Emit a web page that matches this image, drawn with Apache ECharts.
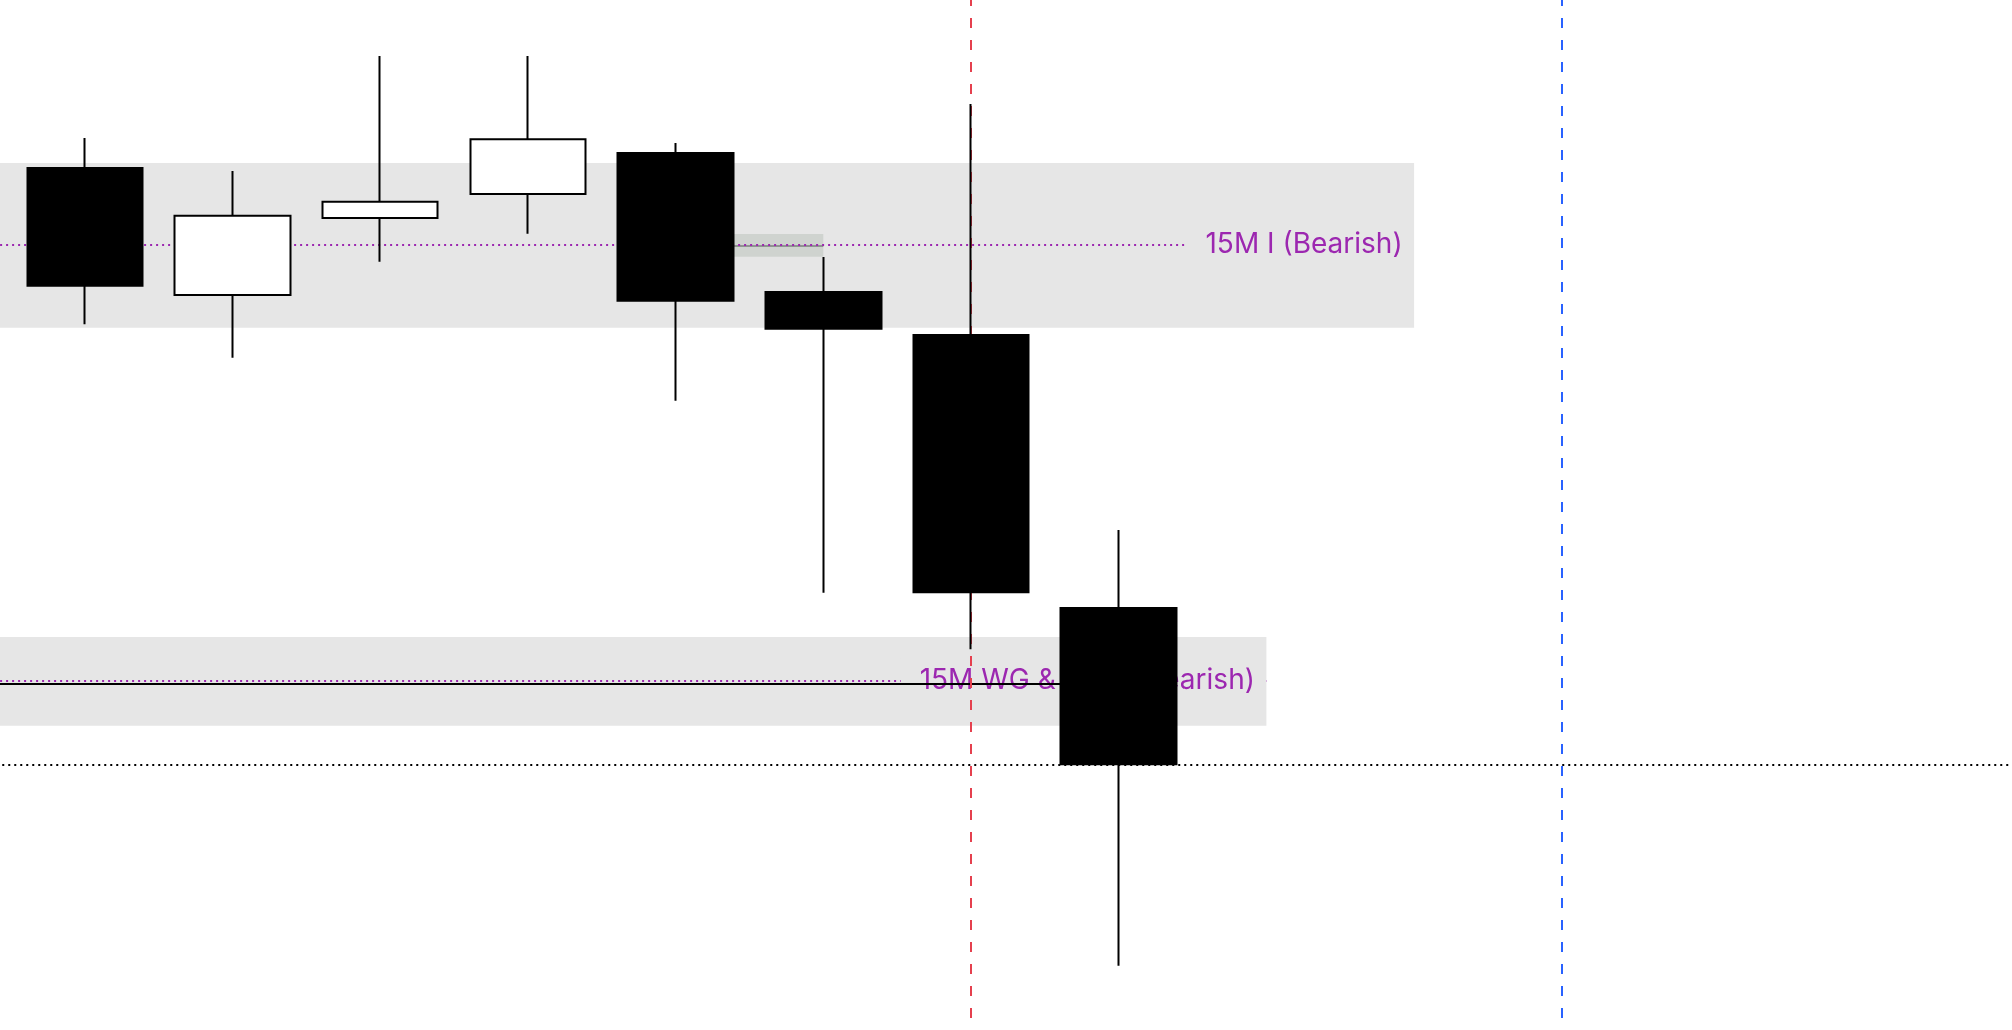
<!DOCTYPE html>
<html>
<head>
<meta charset="utf-8">
<script src="https://cdn.jsdelivr.net/npm/echarts@6/dist/echarts.min.js"></script>
<style>
html,body{margin:0;padding:0;background:#ffffff;}
#chart{width:2012px;height:1030px;}
</style>
</head>
<body>
<div id="chart"></div>
<script>
// ---- data ----
const categories = ['b0','b1','b2','b3','b4','b5','b6','b7','b8','b9','b10','b11','b12','b13','b14'];

const candleBars  = ['b1','b2','b3','b4','b5','b6','b7','b8'];
const candleOpen  = [86.2, 73.5, 81.2, 83.6, 87.7, 73.8, 69.5, 42.2];
const candleClose = [74.43, 81.43, 82.83, 89.07, 72.93, 70.13, 43.77, 26.57];
const candleLow   = [70.57, 67.23, 76.83, 79.63, 62.93, 43.73, 38.07, 6.43];
const candleHigh  = [89.2, 85.9, 97.4, 97.4, 88.7, 77.3, 92.6, 50.0];

const zoneNames  = ['15M I (Bearish)', '15M WG & IFVG (Bearish)'];
const zoneTop    = [86.7, 39.3];
const zoneBottom = [70.23, 30.43];
const zoneLevel  = [78.5, 34.93];
const zoneStart  = ['b0', 'b0'];
const zoneEnd    = ['b10', 'b9'];

const boxRange  = ['b5', 'b6'];
const boxTop    = 79.6;
const boxBottom = 77.33;
const boxLevel  = 78.43;

const solidLevel = 34.6;
const solidRange = ['b0', 'b8'];
const dottedLevel = 26.5;
const redMarker  = 'b7';
const blueMarker = 'b11';

const yMin = 0, yMax = 103;

// ---- options ----
const purple = '#9c27b0';
const zoneColor = '#e6e6e6';

const candleData = candleBars.map((b, i) => [b, candleOpen[i], candleClose[i], candleLow[i], candleHigh[i]]);

const zoneAreas = zoneNames.map((n, i) => [
  { coord: [zoneStart[i], zoneTop[i]] },
  { coord: [zoneEnd[i], zoneBottom[i]] }
]);
const zoneLines = zoneNames.map((n, i) => [
  { coord: [zoneStart[i], zoneLevel[i]] },
  { coord: [zoneEnd[i], zoneLevel[i]] }
]);
const zoneLabels = zoneNames.map((n, i) => ({
  name: n,
  coord: [zoneEnd[i], zoneLevel[i]]
}));

const chart = echarts.init(document.getElementById('chart'), null, { renderer: 'canvas' });
chart.setOption({
  animation: false,
  backgroundColor: '#ffffff',
  grid: { left: -136.75, right: -66.75, top: 0, bottom: 0, containLabel: false, outerBoundsMode: 'none' },
  xAxis: {
    type: 'category', data: categories, boundaryGap: true, show: false,
    axisLine: { show: false }, axisTick: { show: false }, axisLabel: { show: false }, splitLine: { show: false }
  },
  yAxis: {
    type: 'value', min: yMin, max: yMax, show: false,
    axisLine: { show: false }, axisTick: { show: false }, axisLabel: { show: false }, splitLine: { show: false }
  },
  series: [
    {
      type: 'line', data: [], silent: true,
      markArea: { silent: true, z: 1, itemStyle: { color: zoneColor }, label: { show: false }, emphasis: { disabled: true }, data: zoneAreas }
    },
    {
      type: 'line', data: [], silent: true,
      markArea: { silent: true, z: 2, itemStyle: { color: '#cfd3cf' }, label: { show: false }, emphasis: { disabled: true },
        data: [[{ coord: [boxRange[0], boxTop] }, { coord: [boxRange[1], boxBottom] }]] },
      markLine: { silent: true, z: 3, symbol: ['none', 'none'], label: { show: false }, emphasis: { disabled: true },
        lineStyle: { color: '#8f9490', width: 2, type: 'solid' },
        data: [[{ coord: [boxRange[0], boxLevel] }, { coord: [boxRange[1], boxLevel] }]] }
    },
    {
      type: 'line', data: [], silent: true,
      markLine: { silent: true, z: 4, symbol: ['none', 'none'], label: { show: false }, emphasis: { disabled: true },
        lineStyle: { color: purple, width: 2, type: [2, 4], dashOffset: 3, cap: 'butt' },
        data: zoneLines },
      markPoint: { silent: true, z: 4, symbol: 'rect', symbolSize: 1, itemStyle: { color: 'rgba(0,0,0,0)' },
        emphasis: { disabled: true },
        label: { show: true, position: 'left', distance: 0, formatter: '{b}', color: purple,
          fontSize: 28, fontFamily: 'Inter', backgroundColor: zoneColor, padding: [14, 11, 2, 19] },
        data: zoneLabels }
    },
    {
      type: 'line', data: [], silent: true,
      markLine: { silent: true, z: 5, symbol: ['none', 'none'], label: { show: false }, emphasis: { disabled: true },
        data: [
          [{ coord: [solidRange[0], solidLevel], lineStyle: { color: '#000000', width: 2, type: 'solid' } },
           { coord: [solidRange[1], solidLevel] }],
          { yAxis: dottedLevel, lineStyle: { color: '#000000', width: 2, type: [2, 4], dashOffset: 5 } },
          { xAxis: redMarker, lineStyle: { color: '#e5404e', width: 2, type: [10, 12], dashOffset: 10 } },
          { xAxis: blueMarker, lineStyle: { color: '#2962ff', width: 2, type: [10, 12], dashOffset: 10 } }
        ] }
    },
    {
      type: 'candlestick', z: 10, silent: true, barWidth: '78.5%',
      encode: { x: 0, y: [1, 2, 3, 4] },
      data: candleData,
      itemStyle: { color: '#ffffff', color0: '#000000', borderColor: '#000000', borderColor0: '#000000', borderColorDoji: '#000000', borderWidth: 2 },
      emphasis: { disabled: true }
    }
  ]
});
</script>
</body>
</html>
